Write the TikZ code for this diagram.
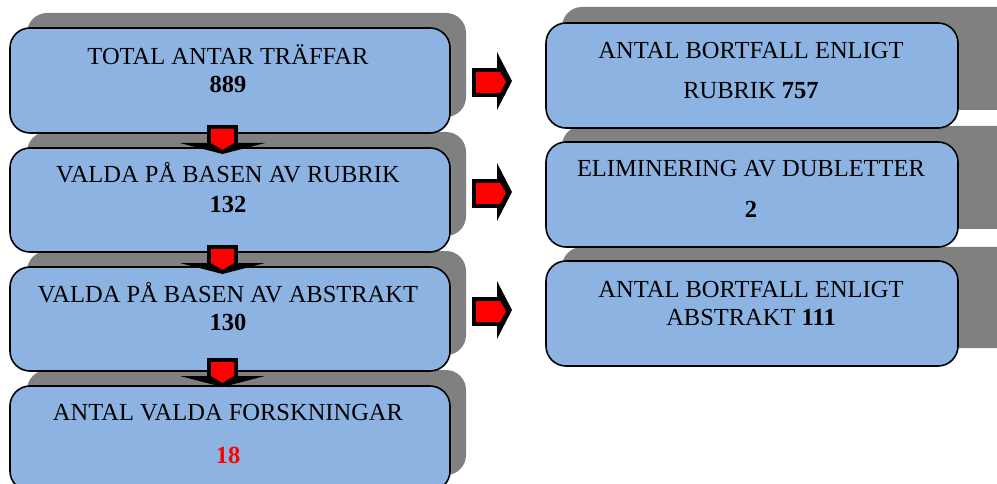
\documentclass[tikz,border=0pt]{standalone}
\usepackage{fontspec}
\setmainfont{Liberation Serif}
\definecolor{boxblue}{RGB}{141,179,226}
\definecolor{shadowgray}{RGB}{128,128,128}
\definecolor{arrowred}{RGB}{255,0,0}
\tikzset{
  box/.style={draw=black, line width=1.6pt, fill=boxblue, rounded corners=20pt, inner sep=0pt},
  shadowbox/.style={fill=shadowgray, rounded corners=20pt},
  txt/.style={anchor=base, inner sep=0pt, font=\fontsize{24.5}{29}\selectfont},
  blockhead/.style={fill=black},
  blockshaft/.style={fill=black},
  blockred/.style={fill=arrowred}
}
\newcommand{\mydownarrow}[2]{%
  \begin{scope}[shift={(#1,#2)}]
    \fill[blockhead] (-42,18) -- (43,18) -- (0.5,29) -- cycle;
    \fill[blockshaft] (-15,0) rectangle (16,19);
    \fill[blockred] (-11,4) -- (12,4) -- (12,18) -- (0.5,25) -- (-11,18) -- cycle;
  \end{scope}}
\newcommand{\myrightarrow}[2]{%
  \begin{scope}[shift={(#1,#2)}]
    \fill[blockhead] (25,-30) -- (25,28) -- (40,-1) -- cycle;
    \fill[blockshaft] (0,-14) rectangle (30,15);
    \fill[blockred] (4,-10) -- (28,-10) -- (34,0) -- (28,11) -- (4,11) -- cycle;
  \end{scope}}
\begin{document}
\begin{tikzpicture}[x=1pt,y=-1pt]
\useasboundingbox (0,0) rectangle (997,484);
\clip (0,0) rectangle (997,484);
\fill[white] (0,0) rectangle (997,484);
% shadows left
\fill[shadowbox] (27,13) rectangle (466,117);
\fill[shadowbox] (27,132) rectangle (466,236);
\fill[shadowbox] (27,251) rectangle (466,355);
\fill[shadowbox] (27,370) rectangle (466,475);
% shadows right
\fill[shadowbox] (562,7) rectangle (1020,110);
\fill[shadowbox] (562,126) rectangle (1020,229);
\fill[shadowbox] (562,247) rectangle (1020,348);
% boxes left
\node[box, minimum width=440pt, minimum height=105pt] (b1) at (230,80.5) {};
\node[box, minimum width=440pt, minimum height=104pt] (b2) at (230,200) {};
\node[box, minimum width=440pt, minimum height=104pt] (b3) at (230,319) {};
\node[box, minimum width=440pt, minimum height=105pt] (b4) at (230,438.5) {};
% boxes right
\node[box, minimum width=412pt, minimum height=105pt] (r1) at (752,75.5) {};
\node[box, minimum width=412pt, minimum height=105pt] (r2) at (752,194.5) {};
\node[box, minimum width=412pt, minimum height=105pt] (r3) at (752,313.5) {};
% texts left
\node[txt] (t1a) at (228,65) {TOTAL ANTAR TRÄFFAR};
\node[txt] (t1b) at (228,93) {\textbf{889}};
\node[txt] (t2a) at (228,183) {VALDA PÅ BASEN AV RUBRIK};
\node[txt] (t2b) at (228,212) {\textbf{132}};
\node[txt] (t3a) at (228,302) {VALDA PÅ BASEN AV ABSTRAKT};
\node[txt] (t3b) at (228,330) {\textbf{130}};
\node[txt] (t4a) at (228,420) {ANTAL VALDA FORSKNINGAR};
\node[txt] (t4b) at (228,463) {\textcolor{arrowred}{\textbf{18}}};
% texts right
\node[txt] (u1a) at (751,59) {ANTAL BORTFALL ENLIGT};
\node[txt] (u1b) at (751,99) {RUBRIK \textbf{757}};
\node[txt] (u2a) at (751,177) {ELIMINERING AV DUBLETTER};
\node[txt] (u2b) at (751,218) {\textbf{2}};
\node[txt] (u3a) at (751,297) {ANTAL BORTFALL ENLIGT};
\node[txt] (u3b) at (751,325) {ABSTRAKT \textbf{111}};
% arrows
\mydownarrow{222}{125}
\mydownarrow{222}{245}
\mydownarrow{222}{358}
\myrightarrow{472}{82}
\myrightarrow{472}{193}
\myrightarrow{472}{311}
\end{tikzpicture}
\end{document}
